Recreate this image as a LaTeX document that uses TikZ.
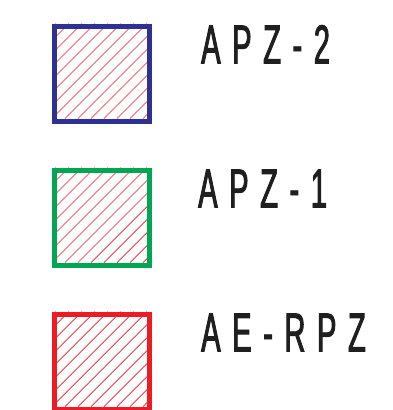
\documentclass[tikz,border=0pt]{standalone}
\usepackage{fontspec}
\newfontfamily\labfont[FakeStretch=0.53,FakeBold=1.6,LetterSpace=21]{Liberation Sans}
\definecolor{cblue}{RGB}{46,49,146}
\definecolor{cgreen}{RGB}{0,166,81}
\definecolor{cred}{RGB}{237,28,36}
\tikzset{
  legbox/.style={draw=#1,line width=5pt,minimum width=95pt,minimum height=95pt,inner sep=0pt,anchor=north west},
  leglabel/.style={anchor=base west,inner sep=0pt,font=\labfont\fontsize{55}{55}\selectfont,text=black!88}
}
\begin{document}
\begin{tikzpicture}[x=1pt,y=-1pt]
\useasboundingbox (0,0) rectangle (393,410);
\foreach \n/\c/\yy/\t/\xx in {b2/cblue/23.5/APZ-2/201, b1/cgreen/167.5/APZ-1/198, b0/cred/311.5/AE-RPZ/201}{
  \begin{scope}
    \clip (52,\yy) rectangle ++(95,95);
    \foreach \k in {-104,-91,...,104}{
      \draw[cred,line width=0.7pt] (52+\k,\yy+95) -- ++(95,-95);
    }
  \end{scope}
  \node[legbox=\c] (\n) at (52,\yy) {};
  \node[leglabel] (\n-t) at (\xx,\yy+40) {\t};
}
\end{tikzpicture}
\end{document}
